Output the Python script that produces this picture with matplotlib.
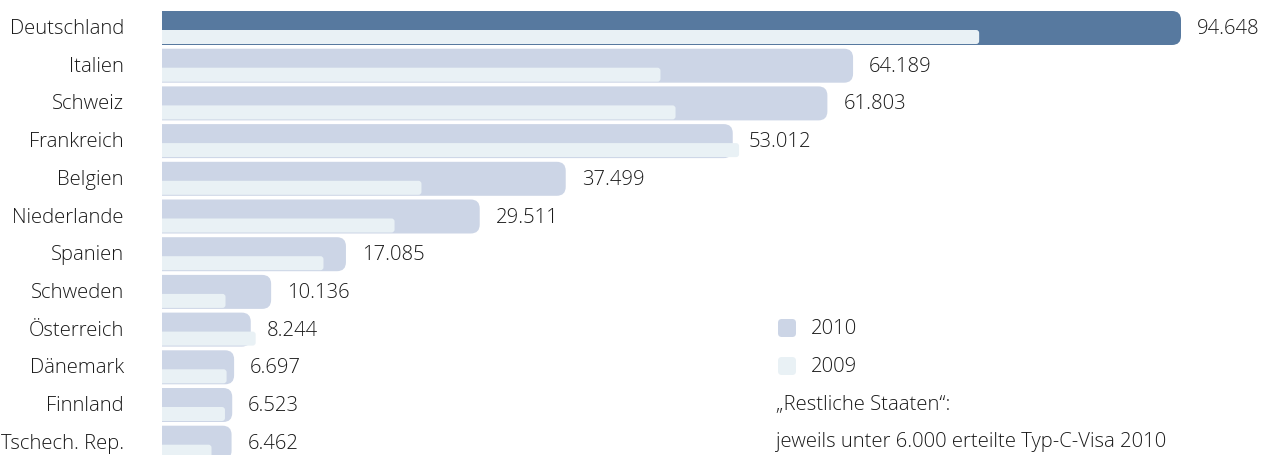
import matplotlib
matplotlib.use("Agg")
import matplotlib.pyplot as plt
from matplotlib.patches import FancyBboxPatch

plt.rcParams['font.family'] = ['Open Sans', 'DejaVu Sans']
plt.rcParams['font.weight'] = 'light'

countries = ['Deutschland', 'Italien', 'Schweiz', 'Frankreich', 'Belgien',
             'Niederlande', 'Spanien', 'Schweden', 'Österreich', 'Dänemark',
             'Finnland', 'Tschech. Rep.']
visa_2010 = [94648, 64189, 61803, 53012, 37499, 29511, 17085, 10136,
             8244, 6697, 6523, 6462]
visa_2009 = [75900, 46300, 47700, 53600, 24100, 21600, 15000, 5900,
             8700, 6000, 5850, 4600]
value_labels = ['94.648', '64.189', '61.803', '53.012', '37.499', '29.511',
                '17.085', '10.136', '8.244', '6.697', '6.523', '6.462']

COL_TOP = '#57799f'
COL_2010 = '#ccd5e6'
COL_2009 = '#e9f1f5'
TXT = '#1a1a1a'
FS = 14.6

W, H = 1261, 456
fig = plt.figure(figsize=(W / 100, H / 100), dpi=100)

# axes spans from the bar baseline to the right edge of the figure
x0_px = 162
px_per_unit = 1019 / 94648
xmax = (W - x0_px) / px_per_unit
pitch = 37.7
ax = fig.add_axes([x0_px / W, 0, 1 - x0_px / W, 1])
ax.set_xlim(0, xmax)
ax.set_ylim((H - 29) / pitch, -29 / pitch)
ax.axis('off')

ux = 1 / px_per_unit      # data units per pixel, x
uy = 1 / pitch            # data units per pixel, y
aspect = uy / ux


def rounded_bar(y_top, height, value, radius_px, color, z):
    r = radius_px * ux
    # start left of zero so the left corners get clipped square
    p = FancyBboxPatch((-3 * r, y_top), value + 3 * r, height,
                       boxstyle=f"round,pad=0,rounding_size={r}",
                       mutation_aspect=aspect, fc=color, ec='none', zorder=z)
    ax.add_patch(p)


h10 = 34 * uy
h09 = 14 * uy
for i, (c, v10, v09, lab) in enumerate(zip(countries, visa_2010, visa_2009, value_labels)):
    top = i - 17 * uy
    rounded_bar(top, h10, v10, 9, COL_TOP if i == 0 else COL_2010, 1)
    rounded_bar(top + 19 * uy, h09, v09, 3, COL_2009, 2)
    ax.text(v10 + 16 * ux, i, lab, ha='left', va='center', fontsize=FS, color=TXT)
    ax.text(-38 * ux, i, c, ha='right', va='center', fontsize=FS, color=TXT,
            clip_on=False)

# legend and note
def fx(px):
    return px / W


def fy(px):
    return 1 - px / H


for ypx, col, lab in [(329, COL_2010, '2010'), (367, COL_2009, '2009')]:
    sq = FancyBboxPatch((fx(778), fy(ypx + 9)), fx(18), 18 / H,
                        boxstyle="round,pad=0,rounding_size=0.003",
                        mutation_aspect=W / H,
                        transform=fig.transFigure, fc=col, ec='none')
    fig.patches.append(sq)
    fig.text(fx(811), fy(ypx), lab, ha='left', va='center', fontsize=FS, color=TXT)

fig.text(fx(776), fy(405), '„Restliche Staaten“:', ha='left', va='center',
         fontsize=FS, color=TXT)
fig.text(fx(776), fy(442), 'jeweils unter 6.000 erteilte Typ-C-Visa 2010', ha='left',
         va='center', fontsize=FS, color=TXT)

fig.savefig('out.png', dpi=100)
